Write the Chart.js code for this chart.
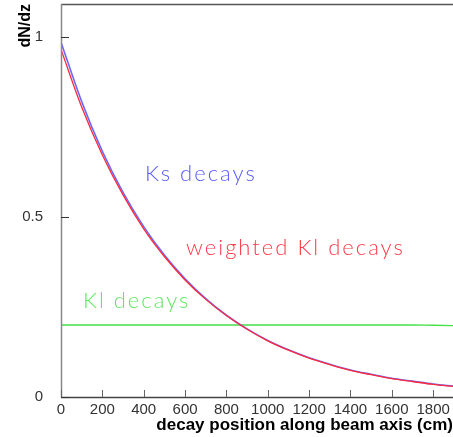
<!DOCTYPE html>
<html>
<head>
<meta charset="utf-8">
<script src="https://cdn.jsdelivr.net/npm/chart.js@4"></script>
<style>
  html, body { margin: 0; padding: 0; background: #fff; }
  #wrap { width: 453px; height: 437px; position: relative; }
</style>
</head>
<body>
<div id="wrap"><canvas id="chartContainer"></canvas></div>
<script>
// decay position (cm)
const positions = [0, 100, 200, 300, 400, 500, 600, 700, 800, 900, 1000,
                   1100, 1200, 1300, 1400, 1500, 1600, 1700, 1800, 1900];
// dN/dz
const ksDecays = [0.985, 0.820, 0.682, 0.568, 0.473, 0.394, 0.328, 0.273, 0.227, 0.189, 0.157,
                  0.131, 0.109, 0.091, 0.075, 0.063, 0.052, 0.044, 0.036, 0.030];
const weightedKlDecays = [0.965, 0.805, 0.672, 0.561, 0.467, 0.390, 0.325, 0.271, 0.226, 0.188, 0.156,
                          0.130, 0.108, 0.090, 0.074, 0.062, 0.051, 0.043, 0.035, 0.029];
const klDecays = [0.2, 0.2, 0.2, 0.2, 0.2, 0.2, 0.2, 0.2, 0.2, 0.2, 0.2,
                  0.2, 0.2, 0.2, 0.2, 0.2, 0.2, 0.2, 0.199, 0.198];
const xTicks = [0, 200, 400, 600, 800, 1000, 1200, 1400, 1600, 1800];
const yTicks = [0, 0.5, 1];

// text labels placed in data coordinates
const notes = [
    { text: 'Ks decays', x: 406, y: 0.6, color: '#5a5aff' },
    { text: 'weighted Kl decays', x: 605, y: 0.394, color: '#ff3a4a' },
    { text: 'Kl decays', x: 106, y: 0.247, color: '#5ee85e' }
];

function toPoints(ys) {
    return positions.map((x, i) => ({ x: x, y: ys[i] }));
}

// draws the inward ticks, the frame and the labels
const frameAndNotes = {
    id: 'frameAndNotes',
    afterDatasetsDraw(chart) {
        const ctx = chart.ctx;
        const a = chart.chartArea;
        const xs = chart.scales.x, ys = chart.scales.y;
        ctx.save();
        // top frame
        ctx.strokeStyle = '#555';
        ctx.lineWidth = 1.5;
        ctx.beginPath();
        ctx.moveTo(a.left, a.top + 0.5);
        ctx.lineTo(a.right, a.top + 0.5);
        ctx.stroke();
        // axes
        ctx.strokeStyle = '#888';
        ctx.beginPath();
        ctx.moveTo(a.left + 0.5, a.top);
        ctx.lineTo(a.left + 0.5, a.bottom);
        ctx.stroke();
        ctx.strokeStyle = '#444';
        ctx.beginPath();
        ctx.moveTo(a.left, a.bottom + 0.5);
        ctx.lineTo(a.right, a.bottom + 0.5);
        ctx.stroke();
        // ticks pointing into the plot
        ctx.lineWidth = 1;
        ctx.strokeStyle = '#666';
        xTicks.forEach(v => {
            const px = Math.round(xs.getPixelForValue(v)) + 0.5;
            ctx.beginPath();
            ctx.moveTo(px, a.bottom);
            ctx.lineTo(px, a.bottom - 7);
            ctx.stroke();
        });
        ctx.strokeStyle = '#333';
        yTicks.forEach(v => {
            const py = Math.round(ys.getPixelForValue(v)) + 0.5;
            ctx.beginPath();
            ctx.moveTo(a.left, py);
            ctx.lineTo(a.left + 8, py);
            ctx.stroke();
        });
        // labels
        ctx.font = '300 22px Lato, "DejaVu Sans", sans-serif';
        ctx.letterSpacing = '2px';
        ctx.textAlign = 'left';
        ctx.textBaseline = 'alphabetic';
        notes.forEach(n => {
            ctx.fillStyle = n.color;
            ctx.fillText(n.text, xs.getPixelForValue(n.x), ys.getPixelForValue(n.y));
        });
        ctx.restore();
    }
};

document.addEventListener('DOMContentLoaded', function () {
    const ctx = document.getElementById('chartContainer').getContext('2d');
    new Chart(ctx, {
        type: 'line',
        data: {
            datasets: [{
                label: 'weighted Kl decays',
                data: toPoints(weightedKlDecays),
                borderColor: '#ff2a3a',
                borderWidth: 1.3
            }, {
                label: 'Ks decays',
                data: toPoints(ksDecays),
                borderColor: '#6a6aff',
                borderWidth: 1.6
            }, {
                label: 'Kl decays',
                data: toPoints(klDecays),
                borderColor: '#44e044',
                borderWidth: 1.4
            }]
        },
        options: {
            responsive: true,
            maintainAspectRatio: false,
            animation: false,
            layout: { padding: { top: 4, right: 0, left: 0, bottom: 0 } },
            elements: {
                point: { radius: 0 },
                line: { cubicInterpolationMode: 'monotone', fill: false }
            },
            scales: {
                x: {
                    type: 'linear',
                    min: 0,
                    max: 1896,
                    afterBuildTicks: s => { s.ticks = xTicks.map(v => ({ value: v })); },
                    afterFit: s => { s.height = 40; s.paddingLeft = 0; s.paddingRight = 0; },
                    grid: { display: false },
                    border: { display: false },
                    ticks: {
                        autoSkip: false,
                        maxRotation: 0,
                        padding: -4,
                        color: '#333',
                        callback: v => String(v),
                        font: { family: 'Liberation Sans, Arial, sans-serif', size: 15 }
                    },
                    title: {
                        display: true,
                        align: 'end',
                        text: 'decay position along beam axis (cm)',
                        color: '#000',
                        padding: { top: 0, bottom: 1 },
                        font: { family: 'Liberation Sans, Arial, sans-serif', size: 17, weight: 'bold' }
                    }
                },
                y: {
                    type: 'linear',
                    min: 0,
                    max: 1.091,
                    afterBuildTicks: s => { s.ticks = yTicks.map(v => ({ value: v })); },
                    afterFit: s => { s.width = 61; s.paddingTop = 0; s.paddingBottom = 0; },
                    grid: { display: false },
                    border: { display: false },
                    ticks: {
                        padding: 10,
                        color: '#333',
                        callback: v => String(v),
                        font: { family: 'Liberation Sans, Arial, sans-serif', size: 15 }
                    },
                    title: {
                        display: true,
                        align: 'end',
                        text: 'dN/dz',
                        color: '#000',
                        padding: { top: 16, bottom: 0 },
                        font: { family: 'Liberation Sans, Arial, sans-serif', size: 16, weight: 'bold' }
                    }
                }
            },
            plugins: {
                legend: { display: false },
                tooltip: { enabled: false }
            }
        },
        plugins: [frameAndNotes]
    });
});
</script>
</body>
</html>
